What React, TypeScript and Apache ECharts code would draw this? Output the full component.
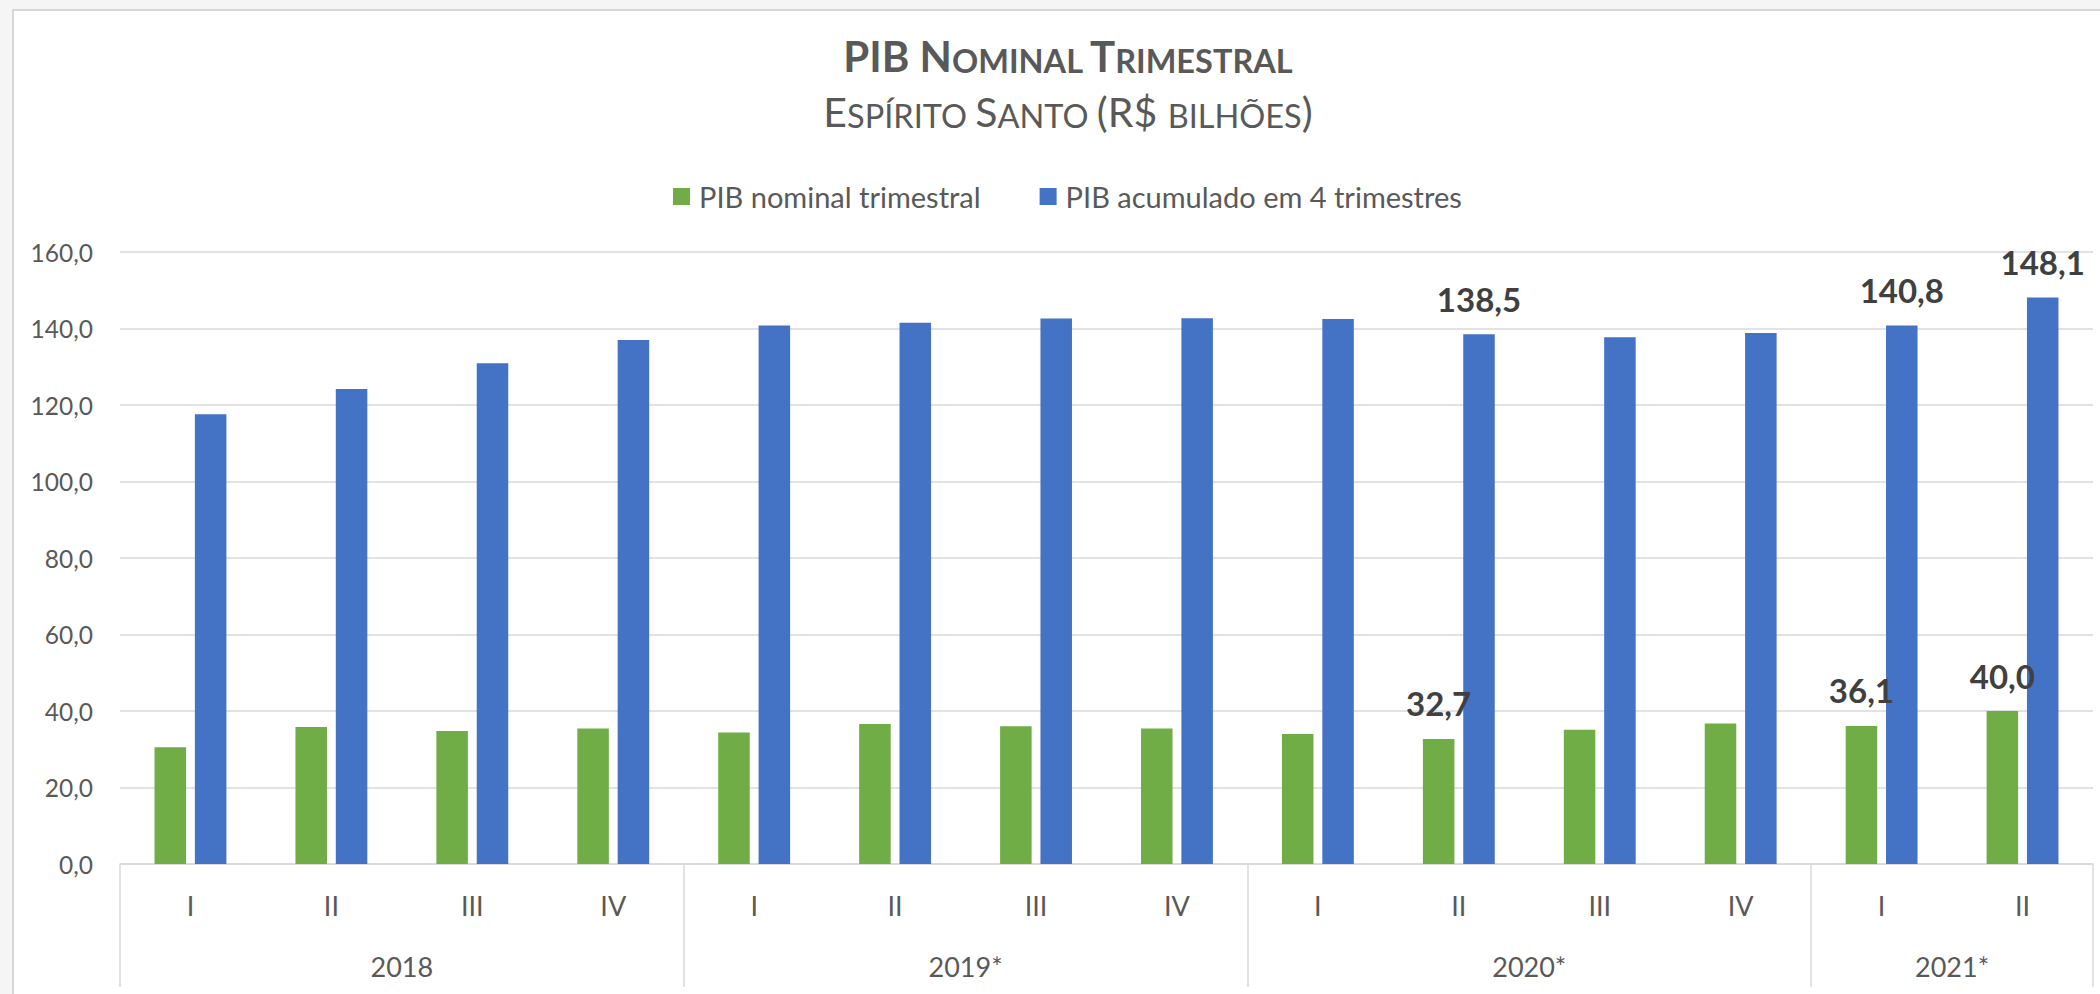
import React, { useEffect, useRef } from "react";
import * as echarts from "echarts";

// ---- data ----
const quarterNames = ["I", "II", "III", "IV"];
const years = ["2018", "2019*", "2020*", "2021*"];
const quartersPerYear = [4, 4, 4, 2];
const pibTrimestral = [30.5, 35.8, 34.8, 35.4, 34.4, 36.6, 36.0, 35.4, 34.0, 32.7, 35.1, 36.7, 36.1, 40.0];
const pibAcumulado = [117.6, 124.2, 130.9, 137.0, 140.8, 141.5, 142.6, 142.7, 142.5, 138.5, 137.7, 138.8, 140.8, 148.1];
const labeledIndices = [9, 12, 13];
const seriesNames = ["PIB nominal trimestral", "PIB acumulado em 4 trimestres"];
const yTicks = { min: 0, max: 160, interval: 20 };

const FONT = "Lato, 'Open Sans', sans-serif";
const GREY = "#595959";
const LINE = "#d9d9d9";
const NB = "\u00A0";

const fmt = (v: number) => v.toFixed(1).replace(".", ",");

export default function App() {
  const ref = useRef<HTMLDivElement>(null);

  useEffect(() => {
    if (!ref.current) return;
    const chart = echarts.init(ref.current, undefined, { renderer: "svg" });

    const categories: string[] = [];
    const yearStarts: number[] = [];
    const yearCenters: Record<number, string> = {};
    let acc = 0;
    years.forEach((y, i) => {
      yearStarts.push(acc);
      yearCenters[acc + quartersPerYear[i] / 2] = y;
      quarterNames.slice(0, quartersPerYear[i]).forEach((q) => categories.push(q));
      acc += quartersPerYear[i];
    });

    const tok = (size: number, weight: string) => ({
      fontFamily: FONT, fontSize: size, fontWeight: weight, fill: GREY,
      lineHeight: Math.round(size * 0.774), verticalAlign: "bottom",
    });

    const labelStyle = {
      show: true,
      position: "top",
      distance: 19,
      fontFamily: FONT,
      fontSize: 33,
      fontWeight: "bold",
      color: "#404040",
      formatter: (p: any) => fmt(p.value),
    };

    const mkData = (arr: number[]) =>
      arr.map((v, i) => ({ value: v, label: { show: labeledIndices.includes(i) } }));

    chart.setOption({
      animation: false,
      textStyle: { fontFamily: FONT },
      graphic: [
        {
          type: "text",
          x: 1068,
          y: 44,
          style: {
            text: `{b|PIB${NB}N}{s|OMINAL${NB}}{b|T}{s|RIMESTRAL}`,
            align: "center",
            verticalAlign: "top",
            rich: { b: tok(42, "bold"), s: tok(32.5, "bold") },
          },
        },
        {
          type: "text",
          x: 1068,
          y: 100,
          style: {
            text: `{b|E}{s|SPÍRITO${NB}}{b|S}{s|ANTO${NB}}{b|(R$${NB}}{s|BILHÕES}{b|)}`,
            align: "center",
            verticalAlign: "top",
            rich: { b: tok(41, "normal"), s: tok(32.5, "normal") },
          },
        },
      ],
      legend: {
        left: 668,
        top: 177,
        itemWidth: 17,
        itemHeight: 17,
        itemGap: 59,
        icon: "rect",
        textStyle: { fontFamily: FONT, fontSize: 29, color: GREY, padding: [0, 0, 0, 4] },
        data: seriesNames,
      },
      grid: { left: 120, right: 7, top: 252, bottom: 130, containLabel: false },
      xAxis: [
        {
          type: "category",
          data: categories,
          position: "bottom",
          axisLine: { show: true, lineStyle: { color: LINE, width: 1.5 } },
          axisTick: { show: false },
          axisLabel: { fontFamily: FONT, fontSize: 27, color: GREY, margin: 28 },
        },
        {
          type: "category",
          data: categories,
          position: "bottom",
          axisLine: { show: false },
          axisTick: {
            show: true,
            interval: (idx: number) => yearStarts.includes(idx),
            length: 123,
            lineStyle: { color: LINE, width: 1.5 },
          },
          axisLabel: { show: false },
        },
        {
          type: "value",
          min: 0,
          max: acc,
          interval: 1,
          position: "bottom",
          axisLine: { show: false },
          axisTick: { show: false },
          splitLine: { show: false },
          axisLabel: {
            fontFamily: FONT,
            fontSize: 27,
            color: GREY,
            margin: 89,
            showMinLabel: true,
            showMaxLabel: true,
            formatter: (v: number) => yearCenters[v] ?? "",
          },
        },
      ],
      yAxis: {
        type: "value",
        min: yTicks.min,
        max: yTicks.max,
        interval: yTicks.interval,
        axisLine: { show: false },
        axisTick: { show: false },
        axisLabel: { fontFamily: FONT, fontSize: 24.5, color: GREY, margin: 27, formatter: fmt },
        splitLine: { lineStyle: { color: LINE, width: 1.5 } },
      },
      series: [
        {
          name: seriesNames[0],
          type: "bar",
          xAxisIndex: 0,
          data: mkData(pibTrimestral),
          itemStyle: { color: "#70AD47" },
          barGap: "28%",
          barCategoryGap: "49%",
          label: labelStyle,
        },
        {
          name: seriesNames[1],
          type: "bar",
          xAxisIndex: 0,
          data: mkData(pibAcumulado),
          itemStyle: { color: "#4472C4" },
          barGap: "28%",
          barCategoryGap: "49%",
          label: labelStyle,
        },
      ],
    });

    return () => chart.dispose();
  }, []);

  return (
    <div style={{ position: "absolute", left: 0, top: 0, width: 2100, height: 994, background: "#f5f5f5", overflow: "hidden" }}>
      <div
        style={{
          position: "absolute", left: 12, top: 9, width: 2100, height: 1000,
          background: "#ffffff", borderLeft: "2px solid #d6d6d6", borderTop: "2px solid #d6d6d6",
        }}
      />
      <div ref={ref} style={{ position: "absolute", left: 0, top: 0, width: 2100, height: 994 }} />
    </div>
  );
}
